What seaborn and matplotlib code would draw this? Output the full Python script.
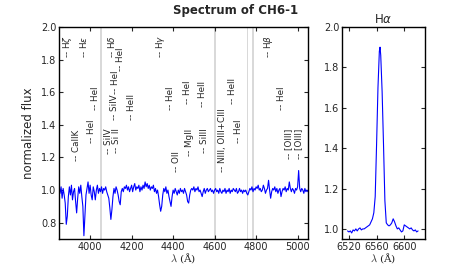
import numpy as np
import pandas as pd
import seaborn as sns
import matplotlib.pyplot as plt

# Main spectrum, sampled every 5 A from 3850 to 5050
wave_main = np.arange(3850, 5055, 5)
flux_main = [
    1.00, 0.98, 1.02, 0.95, 1.01, 0.97, 0.92, 0.79, 0.84, 0.96,  # 3850
    1.02, 0.97, 1.03, 0.94, 0.99, 1.01, 0.93, 0.86, 0.95, 1.02,  # 3900
    0.98, 1.03, 0.96, 0.90, 0.72, 0.85, 0.97, 1.01, 1.05, 0.98,  # 3950
    1.03, 0.97, 0.94, 1.02, 0.99, 0.94, 1.00, 1.03, 0.98, 1.01,  # 4000
    0.99, 1.02, 0.98, 1.01, 1.00, 1.02, 0.99, 0.97, 0.95, 0.89,  # 4050
    0.82, 0.88, 0.96, 1.01, 0.98, 1.02, 1.00, 0.97, 0.93, 0.91,  # 4100
    0.99, 1.01, 0.99, 1.02, 1.01, 1.03, 1.00, 1.02, 0.99, 1.01,  # 4150
    1.03, 0.99, 1.02, 1.04, 1.00, 1.02, 1.01, 1.03, 0.99, 1.02,  # 4200
    1.00, 1.03, 1.01, 1.05, 1.02, 1.04, 1.01, 1.03, 1.00, 1.02,  # 4250
    1.01, 1.03, 0.99, 1.01, 0.98, 1.00, 0.96, 0.91, 0.87, 0.90,  # 4300
    0.97, 1.01, 0.99, 1.02, 0.98, 1.00, 0.96, 0.93, 0.90, 0.96,  # 4350
    1.00, 0.98, 1.01, 0.99, 0.97, 1.00, 0.98, 1.01, 0.99, 1.00,  # 4400
    0.98, 1.01, 0.99, 0.97, 0.93, 0.92, 0.97, 1.00, 1.01, 1.00,  # 4450
    1.02, 0.99, 1.01, 1.00, 1.02, 0.99, 1.00, 0.98, 0.96, 0.99,  # 4500
    1.01, 0.98, 1.00, 1.01, 0.99, 1.00, 1.01, 0.99, 1.00, 0.98,  # 4550
    1.00, 1.01, 0.99, 1.00, 0.98, 1.01, 0.99, 0.98, 1.00, 0.99,  # 4600
    1.01, 0.98, 1.00, 0.99, 1.01, 0.98, 1.00, 0.99, 1.01, 1.00,  # 4650
    0.99, 1.01, 0.98, 0.99, 1.01, 0.99, 1.00, 0.98, 1.00, 0.99,  # 4700
    1.00, 0.98, 0.97, 0.99, 1.01, 1.00, 1.02, 0.99, 1.01, 1.00,  # 4750
    1.02, 1.01, 1.03, 1.00, 1.01, 0.99, 1.00, 1.03, 1.01, 0.98,  # 4800
    1.00, 1.01, 1.06, 1.00, 0.95, 0.99, 1.01, 1.00, 1.02, 0.99,  # 4850
    1.01, 0.98, 1.00, 1.01, 0.96, 0.99, 1.01, 1.00, 1.02, 0.99,  # 4900
    1.01, 1.00, 1.05, 1.01, 0.99, 1.01, 1.00, 0.98, 1.01, 1.00,  # 4950
    1.02, 1.12, 1.01, 0.99, 1.01, 1.00, 0.98, 1.01, 0.99, 1.00,  # 5000
    0.99,                                                        # 5050
]

# H-alpha region
wave_ha = [6518, 6520, 6522, 6524, 6526, 6528, 6530, 6532, 6534, 6536,
           6538, 6540, 6542, 6544, 6546, 6548, 6550, 6552, 6554, 6556,
           6558, 6560, 6562, 6564, 6565, 6566, 6568, 6570, 6572, 6574,
           6576, 6578, 6580, 6582, 6584, 6586, 6588, 6590, 6592, 6594,
           6596, 6598, 6600, 6602, 6604, 6606, 6608, 6610, 6612, 6614,
           6616, 6618, 6620]
flux_ha = [0.99, 0.985, 0.99, 0.98, 0.995, 0.99, 1.00, 0.99, 1.00, 1.005,
           0.995, 1.00, 1.00, 1.005, 1.01, 1.015, 1.02, 1.035, 1.05, 1.08,
           1.16, 1.42, 1.70, 1.88, 1.90, 1.86, 1.68, 1.42, 1.14, 1.03,
           1.02, 1.015, 1.02, 1.03, 1.05, 1.035, 1.015, 1.00, 1.005, 0.995,
           0.985, 0.99, 1.02, 1.015, 1.01, 1.005, 1.00, 1.005, 0.995, 0.99,
           0.995, 0.985, 0.99]

# identified lines: wavelength, name, height of label base
line_waves = [3889, 3970, 3934, 4009, 4026, 4089, 4128, 4116, 4102, 4121,
              4144, 4200, 4340, 4388, 4415, 4471, 4481, 4541, 4552, 4640,
              4686, 4713, 4861, 4922, 4959, 5007]
line_names = [r'H$\zeta$', r'H$\epsilon$', 'CaIIK', 'HeI', 'HeI', 'SiIV', 'Si II',
              'SiIV', r'H$\delta$', 'HeI', 'HeI', 'HeII', r'H$\gamma$', 'HeI', 'OII',
              'HeI', 'MgII', 'HeII', 'SiIII', 'NIII, OIII+CIII', 'HeII', 'HeI',
              r'H$\beta$', 'HeI', '[OIII]', '[OIII]']
line_y = [1.81, 1.81, 1.18, 1.29, 1.49, 1.22, 1.23, 1.43, 1.81, 1.59,
          1.73, 1.43, 1.81, 1.49, 1.11, 1.53, 1.21, 1.51, 1.23, 1.11,
          1.53, 1.29, 1.81, 1.49, 1.19, 1.19]

# masked regions
bands = [(3846, 3853), (4050, 4058), (4597, 4605), (4754, 4762), (4778, 4792)]

df_main = pd.DataFrame({'wave': wave_main, 'flux': flux_main})
df_ha = pd.DataFrame({'wave': wave_ha, 'flux': flux_ha})

sns.set_style('ticks')
plt.rcParams['font.family'] = ['DejaVu Sans']
plt.rcParams['axes.edgecolor'] = 'black'

fig = plt.figure(figsize=(4.72, 2.66), dpi=100)
ax = fig.add_axes([0.125, 0.1015, 0.5275, 0.797])
ax2 = fig.add_axes([0.7246, 0.1015, 0.1758, 0.797])

# main spectrum
for lo, hi in bands:
    ax.axvspan(lo, hi, color='0.85', lw=0, zorder=0)
sns.lineplot(data=df_main, x='wave', y='flux', ax=ax, color='b', lw=0.8)
for w, name, y in zip(line_waves, line_names, line_y):
    ax.text(w, y, '-- ' + name, rotation=90, ha='center', va='bottom', fontsize=6.3)

ax.set_xlim(3850, 5050)
ax.set_ylim(0.7, 2.0)
ax.set_xticks([4000, 4200, 4400, 4600, 4800, 5000])
ax.set_yticks([0.8, 1.0, 1.2, 1.4, 1.6, 1.8, 2.0])
ax.set_ylabel('normalized flux', fontsize=8.5)

# H alpha
sns.lineplot(data=df_ha, x='wave', y='flux', ax=ax2, color='b', lw=0.8)
ax2.set_xlim(6510, 6630)
ax2.set_ylim(0.95, 2.0)
ax2.set_xticks([6520, 6560, 6600])
ax2.set_yticks([1.0, 1.2, 1.4, 1.6, 1.8, 2.0])
ax2.set_ylabel('')
ax2.set_title(r'H$\alpha$', fontsize=8.5, pad=3)

for a in (ax, ax2):
    a.set_xlabel(r'$\lambda$ (Å)', fontsize=7.5, family='DejaVu Serif',
                 math_fontfamily='cm')
    a.tick_params(direction='in', top=True, right=True, length=3, width=0.8,
                  labelsize=7, pad=2)
    for s in a.spines.values():
        s.set_linewidth(1.0)
        s.set_color('black')
    a.xaxis.label.set_va('center')
    a.xaxis.set_label_coords(0.5, -0.092)

fig.text(0.5, 0.962, 'Spectrum of CH6-1', ha='center', va='center',
         fontsize=8.5, fontweight='bold')

fig.savefig('out.png', dpi=100)
